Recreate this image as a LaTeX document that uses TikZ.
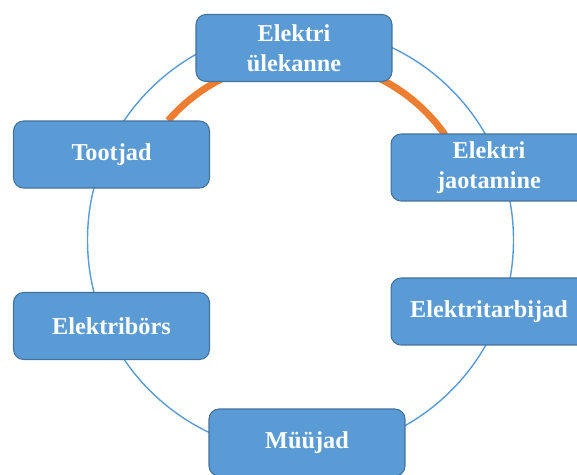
\documentclass[tikz,border=0pt]{standalone}
\usepackage{fontspec}
\setmainfont{Liberation Serif}
\usetikzlibrary{calc}
\definecolor{boxblue}{HTML}{5B9BD5}
\definecolor{boxedge}{HTML}{41719C}
\definecolor{flowcol}{HTML}{ED7D31}
\tikzset{
  stage/.style={draw=boxedge,fill=boxblue,line width=0.6pt,rounded corners=0.2cm,
    minimum width=3.92cm,minimum height=1.34cm,align=center,text=white,
    font=\bfseries\fontsize{13.8}{17}\selectfont},
  ring/.style={boxblue,line width=0.8pt},
  flow/.style={flowcol,line width=3.9pt}
}
\begin{document}
\begin{tikzpicture}[x=0.02cm,y=0.02cm]
    \clip (0,0) rectangle (577,474);
    \coordinate (C) at (300.5,234);
    \coordinate (F) at (301,238);
    % ring behind the boxes
    \draw[ring] (C) circle (213);
    \draw[flow] ($ (F) + (139:176) $) arc[start angle=139,end angle=35,radius=176];
    % stages
    \node[stage] (transfer) at (294,426) {Elektri\\ülekanne};
    \node[stage] (producers) at (111.5,319.5) {Tootjad};
    \node[stage] (distrib) at (489,306.5) {Elektri\\jaotamine};
    \node[stage] (consumers) at (489,162.5) {Elektritarbijad};
    \node[stage] (exchange) at (111.5,148) {Elektribörs};
    \node[stage] (sellers) at (307,31.5) {Müüjad};
\end{tikzpicture}
\end{document}
